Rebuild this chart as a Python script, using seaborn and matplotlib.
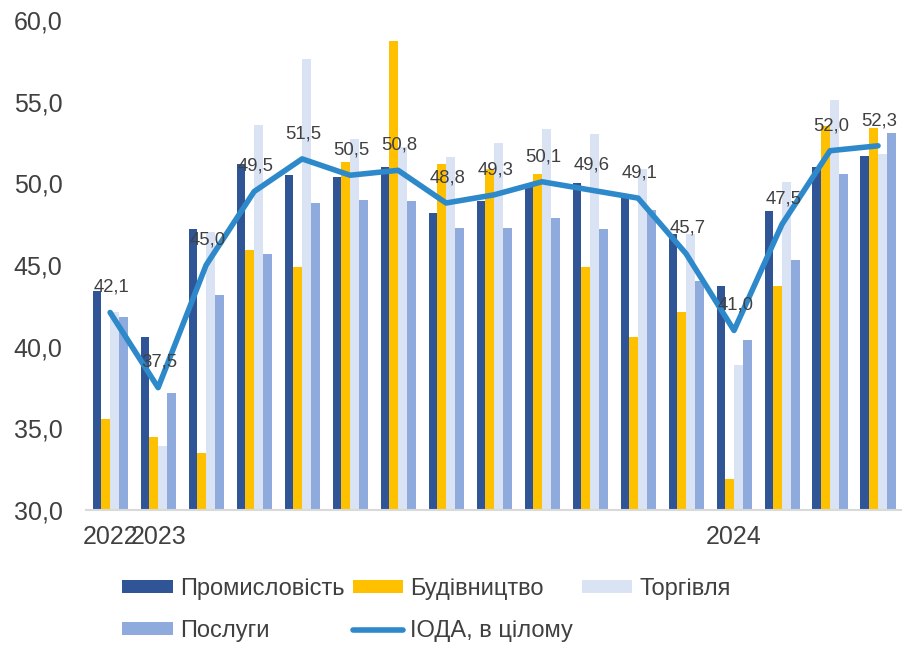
import matplotlib
matplotlib.use('Agg')
import matplotlib.pyplot as plt
import seaborn as sns
import pandas as pd
import numpy as np

# periods (Dec 2022 .. Apr 2024)
periods = ['2022-12'] + [f'2023-{m:02d}' for m in range(1, 13)] + [f'2024-{m:02d}' for m in range(1, 5)]
tick_labels = ['2022', '2023'] + [''] * 11 + ['2024'] + [''] * 3

series_names = ['Промисловість', 'Будівництво', 'Торгівля', 'Послуги']
industry = [43.4, 40.6, 47.2, 51.2, 50.5, 50.4, 51.0, 48.2, 48.9, 49.8, 50.0, 49.1, 46.9, 43.7, 48.3, 51.0, 51.7]
construction = [35.6, 34.5, 33.5, 45.9, 44.9, 51.3, 58.7, 51.2, 50.9, 50.6, 44.9, 40.6, 42.1, 31.9, 43.7, 53.5, 53.4]
trade = [42.1, 33.9, 47.0, 53.6, 57.6, 52.7, 52.2, 51.6, 52.5, 53.3, 53.0, 50.9, 46.9, 38.9, 50.1, 55.1, 51.8]
services = [41.8, 37.2, 43.2, 45.7, 48.8, 49.0, 48.9, 47.3, 47.3, 47.9, 47.2, 48.4, 44.0, 40.4, 45.3, 50.6, 53.1]
ioda = [42.1, 37.5, 45.0, 49.5, 51.5, 50.5, 50.8, 48.8, 49.3, 50.1, 49.6, 49.1, 45.7, 41.0, 47.5, 52.0, 52.3]
line_name = 'ІОДА, в цілому'

colors = ['#2F5597', '#FFC000', '#DAE3F3', '#8FAADC']
line_color = '#2E89CA'
text_color = '#404040'

df = pd.DataFrame({'Період': periods, series_names[0]: industry, series_names[1]: construction,
                   series_names[2]: trade, series_names[3]: services})
long_df = df.melt(id_vars='Період', var_name='Сектор', value_name='Значення')

sns.set_style('white')
plt.rcParams['font.family'] = ['Liberation Sans', 'DejaVu Sans']

fig = plt.figure(figsize=(9.02, 6.45), dpi=100)
ax = fig.add_axes([0.0955, 0.209, 0.9045, 0.760])

sns.barplot(data=long_df, x='Період', y='Значення', hue='Сектор', palette=colors,
            width=0.73, errorbar=None, ax=ax, saturation=1, legend=True)
for p in ax.patches:
    p.set_edgecolor('none')

x = np.arange(len(periods))
sns.lineplot(x=x, y=ioda, color=line_color, linewidth=4, ax=ax, label=line_name)
for xi, v in zip(x, ioda):
    ax.annotate(f'{v:.1f}'.replace('.', ','), (xi, v), xytext=(1, 12), textcoords='offset points',
                ha='center', va='bottom', fontsize=13.3, color=text_color)

ax.set_ylim(30, 60)
ax.set_xlim(-0.5, len(periods) - 0.5)
yt = np.arange(30, 61, 5)
ax.set_yticks(yt)
ax.set_yticklabels([f'{t:.1f}'.replace('.', ',') for t in yt], fontsize=18, color=text_color)
ax.set_xticks(x)
ax.set_xticklabels(tick_labels, fontsize=18, color=text_color)
ax.tick_params(axis='y', length=0, pad=17)
ax.tick_params(axis='x', length=0, pad=11)
ax.set_xlabel('')
ax.set_ylabel('')
for s in ['top', 'right', 'left']:
    ax.spines[s].set_visible(False)
ax.spines['bottom'].set_color('#D9D9D9')
ax.spines['bottom'].set_linewidth(1.5)

handles, labels = ax.get_legend_handles_labels()
ax.get_legend().remove()
order = [0, 3, 1, 4, 2]
fig.legend([handles[i] for i in order], [labels[i] for i in order], ncol=3,
           loc='center left', bbox_to_anchor=(122 / 902, 1 - 610 / 645), frameon=False, fontsize=17,
           handlelength=2.15, handleheight=0.47, columnspacing=0.35, handletextpad=0.3,
           labelspacing=0.88, borderpad=0, borderaxespad=0, labelcolor=text_color)

plt.savefig('out.png', dpi=100)
